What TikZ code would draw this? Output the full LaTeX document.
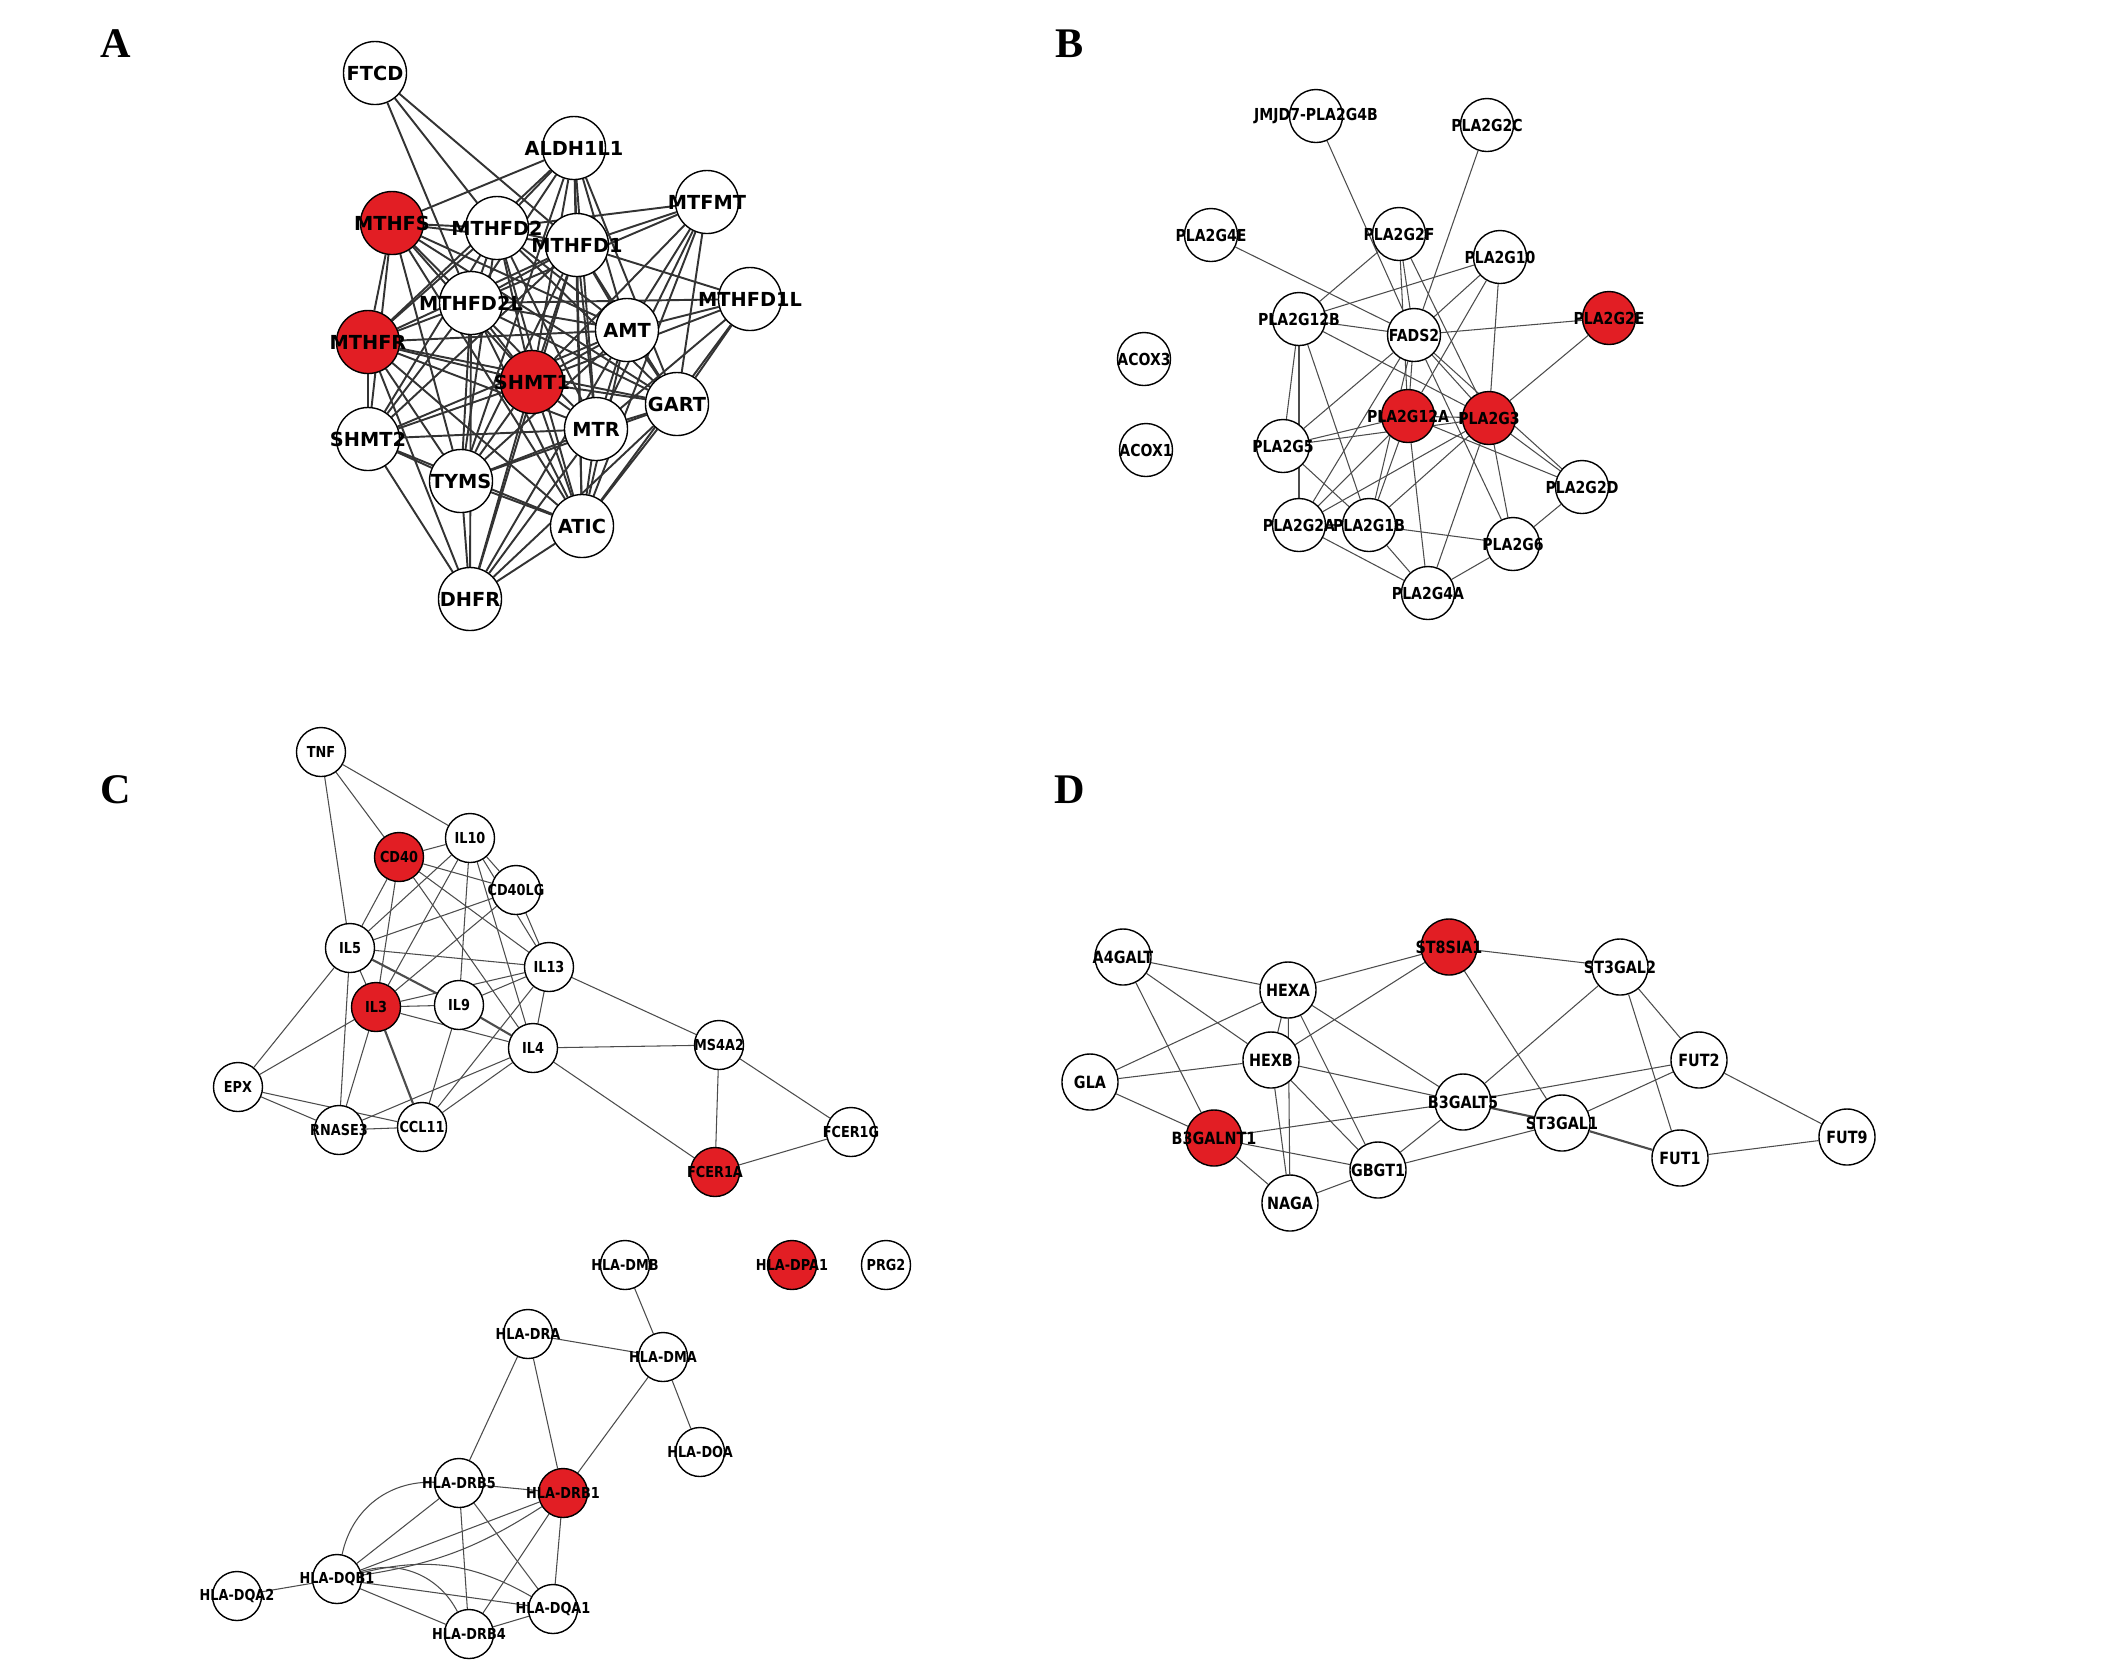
\documentclass[tikz,border=0pt]{standalone}
\usepackage{fontspec}
\setmainfont{Liberation Serif}
\newfontfamily\genefont{DejaVu Sans}
\newfontfamily\genefontn[FakeStretch=0.85]{DejaVu Sans}
\usepackage{xcolor}
\usepackage{tikz}
\usetikzlibrary{shapes,backgrounds}

\definecolor{hitred}{RGB}{226,30,36}
\tikzset{
  gene/.style={circle, draw, line width=0.4pt, fill=white, inner sep=0pt,
    execute at begin node={\hbox to 0pt\bgroup\hss},
    execute at end node={\hss\egroup}},
  ga/.style={gene, minimum size=0.63cm, font=\genefont\bfseries\fontsize{5.5}{6}\selectfont},
  gb/.style={gene, minimum size=0.53cm, font=\genefontn\bfseries\fontsize{4.7}{5}\selectfont},
  gc/.style={gene, minimum size=0.49cm, font=\genefontn\bfseries\fontsize{4.3}{5}\selectfont},
  gd/.style={gene, minimum size=0.56cm, font=\genefontn\bfseries\fontsize{4.8}{5}\selectfont},
  hit/.style={fill=hitred},
  linka/.style={line width=0.55pt, black!80},
  link/.style={line width=0.3pt, black!70},
  panel/.style={font=\bfseries\fontsize{12}{13}\selectfont}
}

\begin{document}
\begin{tikzpicture}[x=0.01cm, y=-0.01cm]
\useasboundingbox (0,0) rectangle (2126,1668);

\node[panel] (pA) at (116,44) {A};
\node[panel] (pB) at (1070,44) {B};
\node[panel] (pC) at (116,790) {C};
\node[panel] (pD) at (1070,790) {D};

\node[ga] (a1) at (375,73) {FTCD};
\node[ga] (a2) at (574,148) {ALDH1L1};
\node[ga] (a3) at (707,202) {MTFMT};
\node[ga,hit] (a4) at (392,223) {MTHFS};
\node[ga] (a5) at (497,228) {MTHFD2};
\node[ga] (a6) at (577,245) {MTHFD1};
\node[ga] (a7) at (471,303) {MTHFD2L};
\node[ga] (a8) at (750,299) {MTHFD1L};
\node[ga,hit] (a9) at (368,342) {MTHFR};
\node[ga] (a10) at (627,330) {AMT};
\node[ga,hit] (a11) at (532,382) {SHMT1};
\node[ga] (a12) at (677,404) {GART};
\node[ga] (a13) at (596,429) {MTR};
\node[ga] (a14) at (368,439) {SHMT2};
\node[ga] (a15) at (461,481) {TYMS};
\node[ga] (a16) at (582,526) {ATIC};
\node[ga] (a17) at (470,599) {DHFR};

\node[gb] (b1) at (1316,116) {JMJD7-PLA2G4B};
\node[gb] (b2) at (1487,125) {PLA2G2C};
\node[gb] (b3) at (1211,235) {PLA2G4E};
\node[gb] (b4) at (1399,234) {PLA2G2F};
\node[gb] (b5) at (1500,257) {PLA2G10};
\node[gb,hit] (b6) at (1609,318) {PLA2G2E};
\node[gb] (b7) at (1299,319) {PLA2G12B};
\node[gb] (b8) at (1414,335) {FADS2};
\node[gb] (b9) at (1144,359) {ACOX3};
\node[gb,hit] (b10) at (1408,416) {PLA2G12A};
\node[gb,hit] (b11) at (1489,418) {PLA2G3};
\node[gb] (b12) at (1283,446) {PLA2G5};
\node[gb] (b13) at (1146,450) {ACOX1};
\node[gb] (b14) at (1582,487) {PLA2G2D};
\node[gb] (b15) at (1299,525) {PLA2G2A};
\node[gb] (b16) at (1369,525) {PLA2G1B};
\node[gb] (b17) at (1513,544) {PLA2G6};
\node[gb] (b18) at (1428,593) {PLA2G4A};

\node[gc] (c1) at (321,752) {TNF};
\node[gc] (c2) at (470,838) {IL10};
\node[gc,hit] (c3) at (399,857) {CD40};
\node[gc] (c4) at (516,890) {CD40LG};
\node[gc] (c5) at (350,948) {IL5};
\node[gc] (c6) at (549,967) {IL13};
\node[gc,hit] (c7) at (376,1007) {IL3};
\node[gc] (c8) at (459,1005) {IL9};
\node[gc] (c9) at (533,1048) {IL4};
\node[gc] (c10) at (719,1045) {MS4A2};
\node[gc] (c11) at (238,1087) {EPX};
\node[gc] (c12) at (339,1130) {RNASE3};
\node[gc] (c13) at (422,1127) {CCL11};
\node[gc] (c14) at (851,1132) {FCER1G};
\node[gc,hit] (c15) at (715,1172) {FCER1A};
\node[gc] (c16) at (625,1265) {HLA-DMB};
\node[gc,hit] (c17) at (792,1265) {HLA-DPA1};
\node[gc] (c18) at (886,1265) {PRG2};
\node[gc] (c19) at (528,1334) {HLA-DRA};
\node[gc] (c20) at (663,1357) {HLA-DMA};
\node[gc] (c21) at (700,1452) {HLA-DOA};
\node[gc] (c22) at (459,1483) {HLA-DRB5};
\node[gc,hit] (c23) at (563,1493) {HLA-DRB1};
\node[gc] (c24) at (337,1579) {HLA-DQB1};
\node[gc] (c25) at (237,1596) {HLA-DQA2};
\node[gc] (c26) at (553,1609) {HLA-DQA1};
\node[gc] (c27) at (469,1634) {HLA-DRB4};

\node[gd] (d1) at (1123,957) {A4GALT};
\node[gd,hit] (d2) at (1449,947) {ST8SIA1};
\node[gd] (d3) at (1620,967) {ST3GAL2};
\node[gd] (d4) at (1288,990) {HEXA};
\node[gd] (d5) at (1271,1060) {HEXB};
\node[gd] (d6) at (1699,1060) {FUT2};
\node[gd] (d7) at (1090,1082) {GLA};
\node[gd] (d8) at (1463,1102) {B3GALT5};
\node[gd] (d9) at (1562,1123) {ST3GAL1};
\node[gd,hit] (d10) at (1214,1138) {B3GALNT1};
\node[gd] (d11) at (1847,1137) {FUT9};
\node[gd] (d12) at (1680,1158) {FUT1};
\node[gd] (d13) at (1378,1170) {GBGT1};
\node[gd] (d14) at (1290,1203) {NAGA};

\begin{pgfonlayer}{background}
\draw[linka] (a1) edge (a5) edge (a6) edge (a7);
\draw[linka] (a2) edge (a4) edge (a5) edge (a6) edge (a7) edge (a9) edge (a10) edge (a11) edge (a12) edge (a13) edge (a15) edge (a16);
\draw[linka] (a3) edge (a5) edge (a6) edge (a7) edge (a10) edge (a11) edge (a12) edge (a13) edge (a16);
\draw[linka] (a4) edge (a5) edge (a6) edge (a7) edge (a9) edge (a10) edge (a11) edge (a12) edge (a14) edge (a15) edge (a16);
\draw[linka] (a5) edge (a6) edge (a7) edge (a9) edge (a10) edge (a11) edge (a12) edge (a13) edge (a14) edge (a15) edge (a16);
\draw[linka] (a6) edge (a7) edge (a8) edge (a9) edge (a10) edge (a11) edge (a12) edge (a13) edge (a14) edge (a15) edge (a16) edge (a17);
\draw[linka] (a7) edge (a8) edge (a9) edge (a10) edge (a11) edge (a12) edge (a13) edge (a14) edge (a15) edge (a16) edge (a17);
\draw[linka] (a8) edge (a10) edge (a11) edge (a12) edge (a13) edge (a16);
\draw[linka] (a9) edge (a10) edge (a11) edge (a12) edge (a13) edge (a14) edge (a15) edge (a16) edge (a17);
\draw[linka] (a10) edge (a11) edge (a12) edge (a13) edge (a14) edge (a15) edge (a16) edge (a17);
\draw[linka] (a11) edge (a12) edge (a13) edge (a14) edge (a15) edge (a16) edge (a17);
\draw[linka] (a12) edge (a13) edge (a15) edge (a16) edge (a17);
\draw[linka] (a13) edge (a14) edge (a15) edge (a16) edge (a17);
\draw[linka] (a14) edge (a15) edge (a16) edge (a17);
\draw[linka] (a15) edge (a16) edge (a17);
\draw[linka] (a16) edge (a17);

\draw[link] (b1) edge (b8);
\draw[link] (b2) edge (b8);
\draw[link] (b3) edge (b8);
\draw[link] (b4) edge (b7) edge (b8) edge (b10) edge (b11);
\draw[link] (b5) edge (b7) edge (b8) edge (b10) edge (b11);
\draw[link] (b6) edge (b8) edge (b11);
\draw[link] (b7) edge (b8) edge (b11) edge (b12) edge (b15) edge (b16);
\draw[link] (b8) edge (b10) edge (b11) edge (b12) edge (b14) edge (b15) edge (b16) edge (b17);
\draw[link] (b10) edge (b11) edge (b12) edge (b14) edge (b15) edge (b16) edge (b18);
\draw[link] (b11) edge (b12) edge (b14) edge (b15) edge (b16) edge (b17) edge (b18);
\draw[link] (b12) edge (b16);
\draw[link] (b15) edge (b16) edge (b18);
\draw[link] (b16) edge (b17) edge (b18);
\draw[link] (b17) edge (b14) edge (b18);

\draw[link] (c1) edge (c2) edge (c3) edge (c5);
\draw[link] (c3) edge (c2) edge (c4) edge (c5) edge (c6) edge (c7) edge (c9);
\draw[link] (c2) edge (c4) edge (c5) edge (c6) edge (c7) edge (c8) edge (c9);
\draw[link] (c4) edge (c5) edge (c6) edge (c7);
\draw[link] (c5) edge (c6) edge (c7) edge (c11) edge (c12);
\draw[link, line width=0.6pt] (c5) edge (c8);
\draw[link] (c6) edge (c7) edge (c8) edge (c9) edge (c10) edge (c13);
\draw[link] (c7) edge (c8) edge (c9) edge (c11) edge (c12);
\draw[link, line width=0.6pt] (c7) edge (c13);
\draw[link, line width=0.6pt] (c8) edge (c9);
\draw[link] (c8) edge (c13);
\draw[link] (c9) edge (c10) edge (c12) edge (c13) edge (c15);
\draw[link] (c11) edge (c12) edge (c13);
\draw[link] (c12) edge (c13);
\draw[link] (c10) edge (c14) edge (c15);
\draw[link] (c15) edge (c14);

\draw[link] (c16) edge (c20);
\draw[link] (c19) edge (c20) edge (c22) edge (c23);
\draw[link] (c20) edge (c21) edge (c23);
\draw[link] (c22) edge (c23) edge (c24) edge (c26) edge (c27);
\draw[link] (c22) edge[bend right=40] (c24);
\draw[link] (c23) edge (c24) edge (c26) edge (c27);
\draw[link] (c23) edge[bend left=12] (c24);
\draw[link] (c24) edge (c25) edge (c26) edge (c27);
\draw[link] (c24) edge[bend left=22] (c26);
\draw[link] (c24) edge[bend left=40] (c27);
\draw[link] (c27) edge (c26);

\draw[link] (d1) edge (d4) edge (d5) edge (d10);
\draw[link] (d2) edge (d3) edge (d4) edge (d5) edge (d9);
\draw[link] (d4) edge (d5) edge (d7) edge (d8) edge (d13) edge (d14);
\draw[link] (d5) edge (d7) edge (d8) edge (d13) edge (d14);
\draw[link] (d7) edge (d10);
\draw[link] (d10) edge (d8) edge (d13) edge (d14);
\draw[link] (d8) edge (d3) edge (d6) edge (d13);
\draw[link, line width=0.6pt] (d8) edge (d9);
\draw[link] (d9) edge (d6) edge (d13);
\draw[link, line width=0.6pt] (d9) edge (d12);
\draw[link] (d3) edge (d6) edge (d12);
\draw[link] (d6) edge (d11);
\draw[link] (d12) edge (d11);
\draw[link] (d13) edge (d14);
\end{pgfonlayer}
\end{tikzpicture}
\end{document}
